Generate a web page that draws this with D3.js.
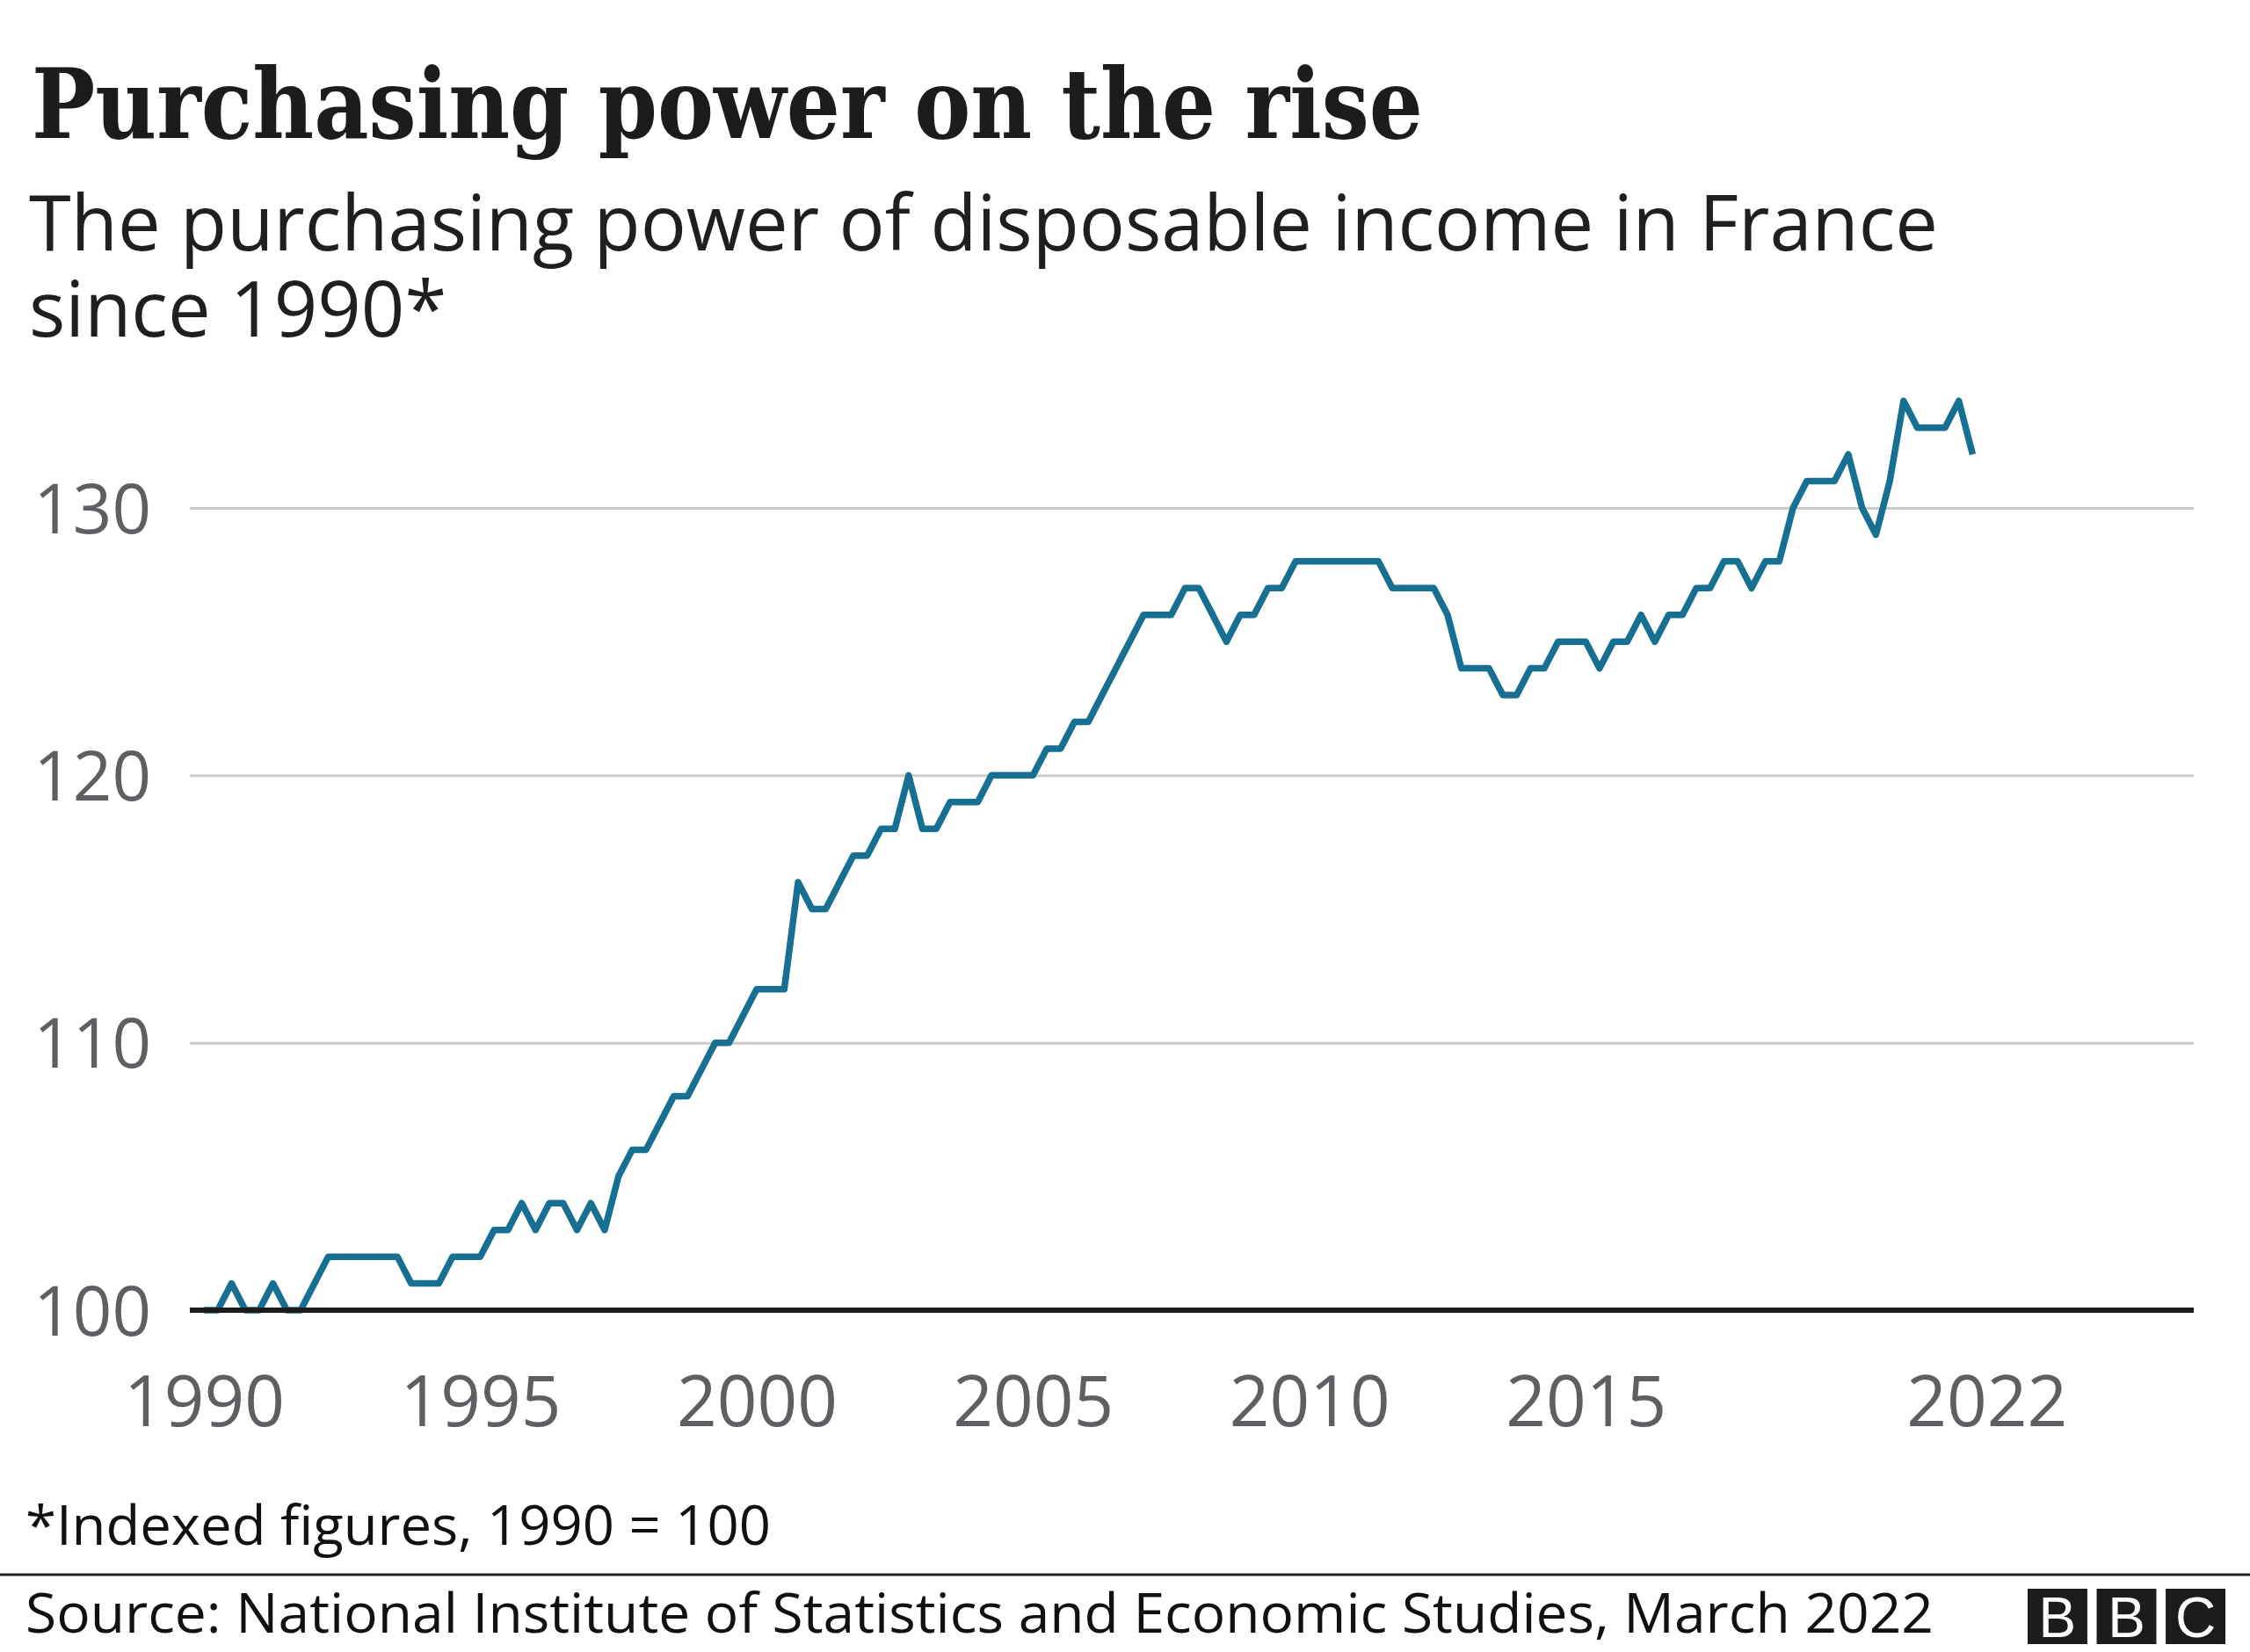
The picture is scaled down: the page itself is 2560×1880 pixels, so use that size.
<!DOCTYPE html>
<html><head><meta charset="utf-8">
<script src="https://cdn.jsdelivr.net/npm/d3@7"></script>
<style>body{margin:0;background:#fff} svg{display:block}</style>
</head><body>
<svg id="c" width="2560" height="1880"></svg>
<script>
// ---- data (quarterly, 1990 Q1 to 2022 Q1, index 1990 = 100) ----
const startYear = 1990;
const quarterlyValues = [
  100,100,101,100,  100,101,100,100,  101,102,102,102,  102,102,102,101,
  101,101,102,102,  102,103,103,104,  103,104,104,103,  104,103,105,106,
  106,107,108,108,  109,110,110,111,  112,112,112,116,  115,115,116,117,
  117,118,118,120,  118,118,119,119,  119,120,120,120,  120,121,121,122,
  122,123,124,125,  126,126,126,127,  127,126,125,126,  126,127,127,128,
  128,128,128,128,  128,128,127,127,  127,127,126,124,  124,124,123,123,
  124,124,125,125,  125,124,125,125,  126,125,126,126,  127,127,128,128,
  127,128,128,130,  131,131,131,132,  130,129,131,134,  133,133,133,134,
  132
];
const yTickValues = [100, 110, 120, 130];
const xTickValues = [1990, 1995, 2000, 2005, 2010, 2015, 2022.25];
const xTickLabels = ["1990", "1995", "2000", "2005", "2010", "2015", "2022"];
const titleText = "Purchasing power on the rise";
const subtitleLines = ["The purchasing power of disposable income in France", "since 1990*"];
const noteText = "*Indexed figures, 1990 = 100";
const sourceText = "Source: National Institute of Statistics and Economic Studies, March 2022";
const logoLetters = ["B", "B", "C"];

const data = quarterlyValues.map((v, i) => ({ t: startYear + i / 4, v }));

// ---- chart ----
const W = 2560, H = 1880;
const svg = d3.select("#c");
svg.append("rect").attr("width", W).attr("height", H).attr("fill", "#fff");

const x = d3.scaleLinear().domain([1990, 2026]).range([232, 2496]);
const y = d3.scaleLinear().domain([100, 130]).range([1491, 578]);
const plotLeft = 216, plotRight = 2496;

const SANS = "'Open Sans', 'Noto Sans', sans-serif";
const AXIS_COL = "#5e5e63";

function fit(sel, target) {
  sel.attr("textLength", target).attr("lengthAdjust", "spacingAndGlyphs");
}

// title
const t = svg.append("text").attr("x", 36).attr("y", 157)
  .attr("font-family", "'DejaVu Serif', serif").attr("font-weight", "bold")
  .attr("font-size", 110).attr("fill", "#1c1c1c").text(titleText);
fit(t, 1583);

// subtitle
const sub1 = svg.append("text").attr("x", 33).attr("y", 285)
  .attr("font-family", SANS).attr("font-size", 88).attr("fill", "#1f1f1f").text(subtitleLines[0]);
const w1 = sub1.node().getComputedTextLength();
const ratio = 2172 / w1;
fit(sub1, 2172);
const sub2 = svg.append("text").attr("x", 33).attr("y", 383)
  .attr("font-family", SANS).attr("font-size", 88).attr("fill", "#1f1f1f").text(subtitleLines[1]);
fit(sub2, sub2.node().getComputedTextLength() * ratio);

// gridlines
const grid = svg.append("g").attr("transform", `translate(${plotLeft},0)`)
  .call(d3.axisRight(y).tickValues(yTickValues.filter(d => d !== 100)).tickSize(plotRight - plotLeft).tickFormat(""));
grid.select(".domain").remove();
grid.selectAll("line").attr("stroke", "#cccccc").attr("stroke-width", 3);

// y labels
const yAx = svg.append("g").attr("transform", `translate(172,0)`)
  .call(d3.axisLeft(y).tickValues(yTickValues).tickSize(0).tickPadding(0));
yAx.select(".domain").remove();
yAx.selectAll("text").attr("font-family", SANS).attr("font-size", 78)
  .attr("fill", AXIS_COL).attr("dy", "0.36em").attr("x", 0);

// x labels
const xAx = svg.append("g").attr("transform", `translate(0,${y(100)})`)
  .call(d3.axisBottom(x).tickValues(xTickValues).tickFormat((d, i) => xTickLabels[i]).tickSize(0));
xAx.select(".domain").remove();
xAx.selectAll("text").attr("font-family", SANS).attr("font-size", 80)
  .attr("fill", AXIS_COL).attr("y", 132).attr("dy", 0);

// line
const line = d3.line().x(d => x(d.t)).y(d => y(d.v));
svg.append("path").datum(data).attr("d", line)
  .attr("fill", "none").attr("stroke", "#176f91").attr("stroke-width", 7.5)
  .attr("stroke-linejoin", "round").attr("stroke-linecap", "butt");

// baseline
svg.append("line").attr("x1", plotLeft).attr("x2", plotRight)
  .attr("y1", y(100)).attr("y2", y(100)).attr("stroke", "#1c1c1c").attr("stroke-width", 6);

// note
const note = svg.append("text").attr("x", 29).attr("y", 1758)
  .attr("font-family", SANS).attr("font-size", 62).attr("fill", "#111").text(noteText);
fit(note, 848);

// separator
svg.append("line").attr("x1", 0).attr("x2", W).attr("y1", 1792).attr("y2", 1792)
  .attr("stroke", "#222").attr("stroke-width", 3);

// source
const src = svg.append("text").attr("x", 29).attr("y", 1858)
  .attr("font-family", SANS).attr("font-size", 62).attr("fill", "#111").text(sourceText);
fit(src, 2171);

// BBC logo
const logoX = d3.scaleBand().domain(d3.range(logoLetters.length)).range([2307, 2532]).paddingInner(0.135);
const logo = svg.append("g");
logo.selectAll("rect").data(logoLetters).join("rect")
  .attr("x", (d, i) => logoX(i)).attr("y", 1808).attr("width", logoX.bandwidth()).attr("height", 63)
  .attr("fill", "#1c1c1c");
logo.selectAll("text").data(logoLetters).join("text")
  .attr("x", (d, i) => logoX(i) + logoX.bandwidth() / 2).attr("y", 1863)
  .attr("text-anchor", "middle").attr("font-family", "'Liberation Sans', Arial, sans-serif")
  .attr("font-size", 64).attr("fill", "#fff").text(d => d);
</script>
</body></html>
